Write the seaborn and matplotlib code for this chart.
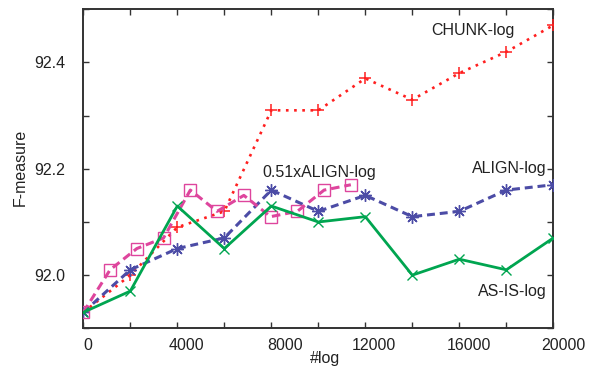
import matplotlib
matplotlib.use("Agg")
import matplotlib.pyplot as plt
import matplotlib.transforms as mtransforms
import pandas as pd
import seaborn as sns

# ---------------------------------------------------------------------------
# Data
# ---------------------------------------------------------------------------

n_log = [0, 1950, 3900, 5850, 7800, 9750, 11700, 13650, 15600, 17550, 19500]
n_log_half = [0, 1110, 2220, 3330, 4440, 5550, 6660, 7770, 8880, 9990, 11100]

chunk_log = [91.93, 92.00, 92.09, 92.12, 92.31, 92.31, 92.37, 92.33, 92.38, 92.42, 92.47]
align_log = [91.93, 92.01, 92.05, 92.07, 92.16, 92.12, 92.15, 92.11, 92.12, 92.16, 92.17]
align_half_log = [91.93, 92.01, 92.05, 92.07, 92.16, 92.12, 92.15, 92.11, 92.12, 92.16, 92.17]
as_is_log = [91.93, 91.97, 92.13, 92.05, 92.13, 92.10, 92.11, 92.00, 92.03, 92.01, 92.07]

x_tick_labels = ["0", "4000", "8000", "12000", "16000", "20000"]
y_ticks = [91.9, 92.0, 92.1, 92.2, 92.3, 92.4, 92.5]
y_tick_labels = ["", "92.0", "", "92.2", "", "92.4", ""]

GREEN = "#00A550"
BLUE = "#4C4CA6"
MAGENTA = "#DE459D"
RED = "#FF1F1F"
TEXT = "#222222"
FRAME = "#333333"

sns.set_theme(style="ticks")
plt.rcParams["font.family"] = ["Liberation Sans", "DejaVu Sans"]
plt.rcParams["font.size"] = 11.5

fig = plt.figure(figsize=(5.98, 3.70), dpi=100)
ax = fig.add_axes([0.1393, 0.1127, 0.7860, 0.8621])

df_full = pd.DataFrame({"x": n_log, "chunk": chunk_log, "align": align_log, "asis": as_is_log})
df_half = pd.DataFrame({"x": n_log_half, "align": align_half_log})

sns.lineplot(data=df_full, x="x", y="chunk", ax=ax, color=RED, linewidth=1.9,
             marker="+", markersize=9, markeredgewidth=1.1,
             markeredgecolor=RED, zorder=3)
ax.lines[-1].set_linestyle((0, (1.0, 2.1)))

sns.lineplot(data=df_full, x="x", y="align", ax=ax, color=BLUE, linewidth=2.2,
             marker=(8, 2, 0), markersize=9, markeredgewidth=1.0,
             markeredgecolor=BLUE, zorder=4)
ax.lines[-1].set_linestyle((0, (2.6, 1.6)))

sns.lineplot(data=df_half, x="x", y="align", ax=ax, color=MAGENTA, linewidth=2.2,
             marker="s", markersize=8.8, markeredgewidth=1.0,
             markerfacecolor="none", markeredgecolor=MAGENTA, zorder=5)
ax.lines[-1].set_linestyle((0, (2.8, 1.6)))

sns.lineplot(data=df_full, x="x", y="asis", ax=ax, color=GREEN, linewidth=2.0,
             marker="x", markersize=7.5, markeredgewidth=1.0,
             markeredgecolor=GREEN, zorder=6)

# Series labels
ax.text(17880, 92.4605, "CHUNK-log", ha="right", va="center", color=TEXT)
ax.text(7440, 92.193, "0.51xALIGN-log", ha="left", va="center", color=TEXT)
ax.text(19226, 92.201, "ALIGN-log", ha="right", va="center", color=TEXT)
ax.text(19226, 91.970, "AS-IS-log", ha="right", va="center", color=TEXT)

ax.set_xlim(0, 19500)
ax.set_ylim(91.9, 92.5)

# x ticks sit on the data points, only every other one is labelled
ax.set_xticks(n_log)
ax.set_xticklabels([x_tick_labels[i // 2] if i % 2 == 0 else "" for i in range(len(n_log))])
ax.set_yticks(y_ticks)
ax.set_yticklabels(y_tick_labels)

ax.tick_params(direction="in", length=4, width=1.0, colors=FRAME,
               labelcolor=TEXT, labelsize=11.5, top=True, right=True)
ax.tick_params(axis="x", pad=7)
ax.tick_params(axis="y", pad=13)

# the reference puts the x tick labels a little right of their ticks
offsets = [5, 0, 9, 0, 14, 0, 9, 0, 10, 0, 10]
for lab, dx in zip(ax.get_xticklabels(), offsets):
    lab.set_transform(lab.get_transform() + mtransforms.ScaledTranslation(dx / 100, 0, fig.dpi_scale_trans))

for spine in ax.spines.values():
    spine.set_visible(True)
    spine.set_linewidth(1.4)
    spine.set_color(FRAME)

ax.set_xlabel("")
ax.set_ylabel("")
fig.text(325 / 598, 1 - 358 / 370, "#log", ha="center", va="center", color=TEXT, fontsize=11.5)
fig.text(20 / 598, 1 - 167 / 370, "F-measure", ha="center", va="center", rotation=90,
         color=TEXT, fontsize=11.5)

fig.savefig("out.png", dpi=100)
plt.close(fig)
